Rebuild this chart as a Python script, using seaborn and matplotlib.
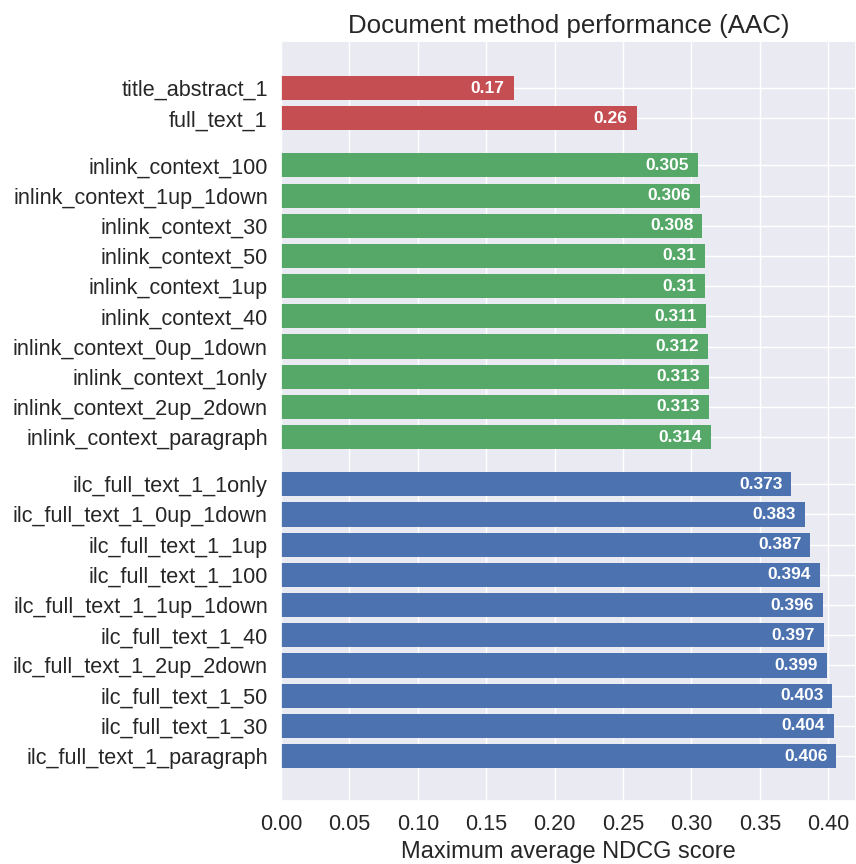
import matplotlib
matplotlib.use("Agg")
import matplotlib.pyplot as plt
import seaborn as sns
import pandas as pd

base_labels = ["title_abstract_1", "full_text_1"]
base_scores = [0.17, 0.26]

inlink_labels = ["inlink_context_100", "inlink_context_1up_1down", "inlink_context_30",
                 "inlink_context_50", "inlink_context_1up", "inlink_context_40",
                 "inlink_context_0up_1down", "inlink_context_1only", "inlink_context_2up_2down",
                 "inlink_context_paragraph"]
inlink_scores = [0.305, 0.306, 0.308, 0.31, 0.31, 0.311, 0.312, 0.313, 0.313, 0.314]

ilc_labels = ["ilc_full_text_1_1only", "ilc_full_text_1_0up_1down", "ilc_full_text_1_1up",
              "ilc_full_text_1_100", "ilc_full_text_1_1up_1down", "ilc_full_text_1_40",
              "ilc_full_text_1_2up_2down", "ilc_full_text_1_50", "ilc_full_text_1_30",
              "ilc_full_text_1_paragraph"]
ilc_scores = [0.373, 0.383, 0.387, 0.394, 0.396, 0.397, 0.399, 0.403, 0.404, 0.406]

groups = ["base", "inlink", "ilc"]
colors = {"base": "#C44E52", "inlink": "#55A868", "ilc": "#4C72B0"}

gap = 1.56
rows = []
pos = 0.0
for g, labs, vals in [("base", base_labels, base_scores),
                      ("inlink", inlink_labels, inlink_scores),
                      ("ilc", ilc_labels, ilc_scores)]:
    for i, (l, v) in enumerate(zip(labs, vals)):
        rows.append({"label": l, "score": v, "group": g, "pos": pos})
        pos += 1
    pos += gap - 1
df = pd.DataFrame(rows)

sns.set_theme(style="darkgrid")
plt.rcParams["font.family"] = ["Liberation Sans", "DejaVu Sans"]

fig = plt.figure(figsize=(8.56, 8.64), dpi=100)
ax = fig.add_axes([281 / 856, 1 - 801 / 864, 1 - 281 / 856, (801 - 41) / 864])

sns.barplot(data=df, x="score", y="pos", hue="group", palette=colors, orient="h",
            native_scale=True, dodge=False, width=0.8, legend=False, ax=ax,
            saturation=1, linewidth=0)

for _, r in df.iterrows():
    ax.annotate(f"{r['score']:g}", xy=(r["score"], r["pos"]), xytext=(-6.5, 0),
                textcoords="offset points", ha="right", va="center",
                color="white", fontweight="bold", fontsize=12.5)

ax.set_yticks(df["pos"])
ax.set_yticklabels(df["label"], fontsize=15.6)
ax.set_ylim(df["pos"].max() + 1.49, -1.56)
ax.set_xlim(0, 0.4203)
ax.set_xticks([0.0, 0.05, 0.10, 0.15, 0.20, 0.25, 0.30, 0.35, 0.40])
ax.set_xticklabels([f"{t:.2f}" for t in ax.get_xticks()], fontsize=15.6)
ax.set_ylabel("")
ax.set_xlabel("Maximum average NDCG score", fontsize=17)
ax.set_title("Document method performance (AAC)", fontsize=18.6)

fig.savefig("out.png", dpi=100)
